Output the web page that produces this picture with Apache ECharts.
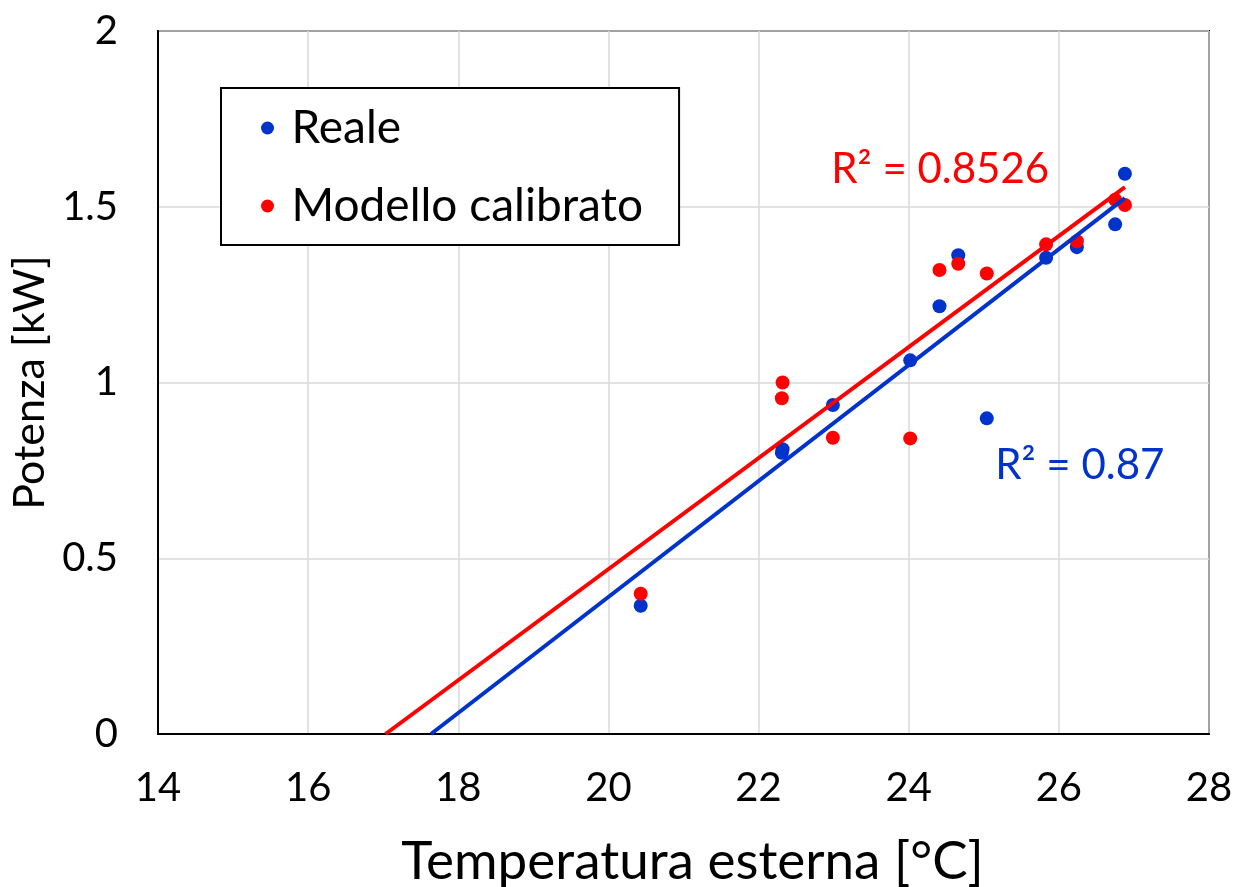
<!DOCTYPE html>
<html>
<head>
<meta charset="utf-8">
<script src="https://cdn.jsdelivr.net/npm/echarts@6/dist/echarts.min.js"></script>
<style>
  html, body { margin: 0; padding: 0; background: #fff; }
  #chart { width: 1237px; height: 887px; }
</style>
</head>
<body>
<div id="chart"></div>
<script>
// valori
var temperature = [20.43, 22.31, 22.32, 22.99, 24.02, 24.41, 24.66, 25.04, 25.83, 26.24, 26.75, 26.88];
var potenzaReale = [0.365, 0.80, 0.81, 0.936, 1.063, 1.217, 1.362, 0.898, 1.355, 1.385, 1.45, 1.594];
var potenzaModello = [0.399, 0.955, 1.0, 0.843, 0.841, 1.32, 1.338, 1.31, 1.393, 1.402, 1.52, 1.505];
var serieNomi = ['Reale', 'Modello calibrato'];
var r2Testi = ['R² = 0.87', 'R² = 0.8526'];

var BLU = '#0033cc';
var ROSSO = '#ff0000';
var FONT = 'Lato';

function coppie(xs, ys) {
  return xs.map(function (x, i) { return [x, ys[i]]; });
}

// retta di tendenza lineare (minimi quadrati), dal punto y=0 all'ultimo x
function tendenza(xs, ys) {
  var n = xs.length, mx = 0, my = 0, sxy = 0, sxx = 0;
  for (var i = 0; i < n; i++) { mx += xs[i]; my += ys[i]; }
  mx /= n; my /= n;
  for (var j = 0; j < n; j++) {
    sxy += (xs[j] - mx) * (ys[j] - my);
    sxx += (xs[j] - mx) * (xs[j] - mx);
  }
  var m = sxy / sxx, b = my - m * mx;
  var x0 = -b / m, x1 = Math.max.apply(null, xs);
  return [[x0, 0], [x1, m * x1 + b]];
}

var chart = echarts.init(document.getElementById('chart'));

var option = {
  animation: false,
  textStyle: { fontFamily: FONT },
  grid: {
    left: 158, right: 28, top: 31, bottom: 153,
    outerBoundsMode: 'none',
    show: true, borderColor: '#000', borderWidth: 2
  },
  legend: {
    data: serieNomi,
    orient: 'vertical',
    left: 221, top: 88,
    icon: 'circle',
    itemWidth: 38, itemHeight: 13,
    itemGap: 32,
    padding: [17, 36, 16, 40],
    borderColor: '#000', borderWidth: 2,
    backgroundColor: '#fff',
    textStyle: { fontFamily: FONT, fontSize: 46, color: '#000' }
  },
  xAxis: {
    type: 'value',
    min: 14, max: 28, interval: 2,
    name: 'Temperatura esterna [°C]',
    nameLocation: 'middle',
    nameGap: 101,
    nameTextStyle: { fontFamily: FONT, fontSize: 53, color: '#000', padding: [0, 0, 0, 18] },
    axisLine: { show: true, onZero: false, lineStyle: { color: '#000', width: 2 } },
    axisTick: { show: false },
    axisLabel: { margin: 34, fontSize: 40, color: '#000', fontFamily: FONT },
    splitLine: { show: true, lineStyle: { color: '#d9d9d9', width: 1.5 } }
  },
  yAxis: {
    type: 'value',
    min: 0, max: 2, interval: 0.5,
    name: 'Potenza [kW]',
    nameLocation: 'middle',
    nameGap: 106,
    nameTextStyle: { fontFamily: FONT, fontSize: 43, color: '#000' },
    axisLine: { show: true, lineStyle: { color: '#000', width: 2 } },
    axisTick: { show: false },
    axisLabel: { margin: 40, fontSize: 40, color: '#000', fontFamily: FONT },
    splitLine: { show: true, lineStyle: { color: '#d9d9d9', width: 1.5 } }
  },
  series: [
    {
      name: serieNomi[0],
      type: 'scatter',
      symbolSize: 14,
      itemStyle: { color: BLU, opacity: 1 },
      data: coppie(temperature, potenzaReale),
      z: 2
    },
    {
      name: serieNomi[1],
      type: 'scatter',
      symbolSize: 14,
      itemStyle: { color: ROSSO, opacity: 1 },
      data: coppie(temperature, potenzaModello),
      z: 2
    },
    {
      name: 'Tendenza reale',
      type: 'line',
      showSymbol: false,
      silent: true,
      lineStyle: { color: BLU, width: 4 },
      data: tendenza(temperature, potenzaReale),
      z: 3
    },
    {
      name: 'Tendenza modello',
      type: 'line',
      showSymbol: false,
      silent: true,
      lineStyle: { color: ROSSO, width: 4 },
      data: tendenza(temperature, potenzaModello),
      z: 3
    },
    {
      name: 'R2',
      type: 'scatter',
      symbolSize: 0,
      silent: true,
      itemStyle: { opacity: 1 },
      data: [
        { value: [26.28, 0.765], label: { formatter: r2Testi[0], color: BLU } },
        { value: [24.42, 1.605], label: { formatter: r2Testi[1], color: ROSSO } }
      ],
      label: { show: true, position: 'inside', fontSize: 42, fontFamily: FONT },
      z: 4
    }
  ]
};

chart.setOption(option);
</script>
</body>
</html>
